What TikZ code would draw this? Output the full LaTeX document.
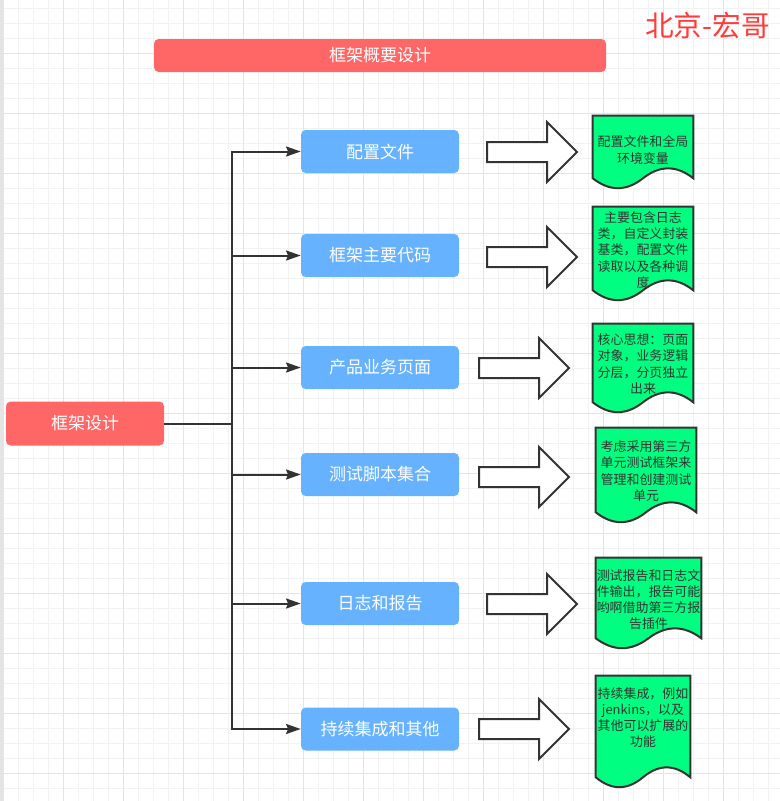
\documentclass[tikz,border=0pt]{standalone}
\usepackage{fontspec}
\newfontfamily\cjk{Noto Sans CJK SC}
\usetikzlibrary{arrows.meta,calc}

\definecolor{redfill}{HTML}{FF6666}
\definecolor{bluefill}{HTML}{66B2FF}
\definecolor{greenfill}{HTML}{00FF80}
\definecolor{ink}{HTML}{333333}
\definecolor{brand}{HTML}{FF3B3B}
\definecolor{gridminor}{HTML}{F2F2F2}
\definecolor{gridmajor}{HTML}{E4E4E4}

% document shape: top edge, straight sides, wavy bottom (wave depth 22 units)
\newcommand\docoutline[1]{%
  \draw[docline] (#1.north west) -- (#1.north east)
    -- ($(#1.south east)+(0,-11)$)
    .. controls ($(#1.south east)!1/6!(#1.south west)+(0,-24.2)$)
            and ($(#1.south east)!1/3!(#1.south west)+(0,-24.2)$)
    .. ($(#1.south)+(0,-11)$)
    .. controls ($(#1.south east)!2/3!(#1.south west)+(0,2.2)$)
            and ($(#1.south east)!5/6!(#1.south west)+(0,2.2)$)
    .. ($(#1.south west)+(0,-11)$) -- cycle;}

% hollow block arrow: left x, centre y
\newcommand\blockarrow[2]{%
  \draw[blockarrowline] (#1,{#2-10}) -- ({#1+60},{#2-10}) -- ({#1+60},{#2-30})
    -- ({#1+90},#2) -- ({#1+60},{#2+30}) -- ({#1+60},{#2+10}) -- (#1,{#2+10}) -- cycle;}

\begin{document}
\begin{tikzpicture}[x=0.75pt,y=-0.75pt,
  redbox/.style={rectangle, rounded corners=3.5pt, fill=redfill, text=white,
    font={\cjk\fontsize{12.75pt}{15pt}\selectfont}, inner sep=0pt},
  bluebox/.style={rectangle, rounded corners=3.5pt, fill=bluefill, text=white,
    font={\cjk\fontsize{12.75pt}{15pt}\selectfont}, inner sep=0pt,
    minimum width=118.5pt, minimum height=32.25pt},
  conn/.style={draw=ink, line width=1.5pt, -{Stealth[length=11pt,width=7.5pt,inset=1.5pt]}},
  blockarrowline/.style={draw=ink, fill=white, line width=1.5pt, line join=miter},
  docline/.style={draw=ink, fill=greenfill, line width=1.5pt},
  docshape/.style={rectangle, inner sep=0pt},
  doctext/.style={text=ink, font={\cjk\fontsize{9.7pt}{12.2pt}\selectfont},
    align=center, inner sep=0pt},
]
\useasboundingbox (0,0) rectangle (780,801);
\fill[white] (0,0) rectangle (780,801);

% background grid
\foreach \i in {0,...,51} {
  \draw[gridminor, line width=0.75pt] ({3.3+15*\i},0) -- ({3.3+15*\i},801);
}
\foreach \j in {0,...,52} {
  \draw[gridminor, line width=0.75pt] (0,{8.3+15*\j}) -- (780,{8.3+15*\j});
}
\foreach \i in {0,...,12} {
  \draw[gridmajor, line width=0.75pt] ({3.3+60*\i},0) -- ({3.3+60*\i},801);
}
\foreach \j in {0,...,12} {
  \draw[gridmajor, line width=0.75pt] (0,{53.3+60*\j}) -- (780,{53.3+60*\j});
}
\fill[gridmajor] (0,0) rectangle (2.5,801);

% headings
\node[redbox, minimum width=339pt, minimum height=24.75pt] (title) at (380,55.5) {框架概要设计};
\node[text=brand, font={\cjk\fontsize{21.5pt}{24pt}\selectfont}, inner sep=0pt] (brand) at (707.5,26) {北京-宏哥};

% root and branches
\node[redbox, minimum width=118.5pt, minimum height=33pt] (root) at (85,423.5) {框架设计};
\node[bluebox] (b1) at (380,151.5) {配置文件};
\node[bluebox] (b2) at (380,255.5) {框架主要代码};
\node[bluebox] (b3) at (380,367.5) {产品业务页面};
\node[bluebox] (b4) at (380,474.5) {测试脚本集合};
\node[bluebox] (b5) at (380,603.5) {日志和报告};
\node[bluebox] (b6) at (380,729) {持续集成和其他};

\coordinate (trunk) at ($(root.east)+(68,0)$);
\foreach \b in {b1,b2,b3,b4,b5,b6} {
  \draw[conn] (root.east) -- (trunk) |- (\b.west);
}

% hollow arrows
\blockarrow{487}{152}
\blockarrow{487}{257}
\blockarrow{479}{368}
\blockarrow{479}{477}
\blockarrow{487}{604}
\blockarrow{479}{729}

% notes
\node[docshape, minimum width=75pt, minimum height=54.75pt] (d1) at (643,152.5) {};
\node[docshape, minimum width=75pt, minimum height=70.5pt] (d2) at (643,254) {};
\node[docshape, minimum width=75pt, minimum height=66.75pt] (d3) at (643,368.5) {};
\node[docshape, minimum width=75pt, minimum height=71.25pt] (d4) at (646,475.5) {};
\node[docshape, minimum width=78.75pt, minimum height=68.25pt] (d5) at (648.5,603.5) {};
\node[docshape, minimum width=70.5pt, minimum height=84pt] (d6) at (643,732) {};
\docoutline{d1}
\docoutline{d2}
\docoutline{d3}
\docoutline{d4}
\docoutline{d5}
\docoutline{d6}

\node[doctext] (t1) at (643,150) {配置文件和全局\\环境变量};
\node[doctext] (t2) at (643,250) {主要包含日志\\类，自定义封装\\基类，配置文件\\读取以及各种调\\度};
\node[doctext] (t3) at (643,364) {核心思想：页面\\对象，业务逻辑\\分层，分页独立\\出来};
\node[doctext] (t4) at (646,471) {考虑采用第三方\\单元测试框架来\\管理和创建测试\\单元};
\node[doctext] (t5) at (648.5,599.5) {测试报告和日志文\\件输出，报告可能\\哟啊借助第三方报\\告插件};
\node[doctext] (t6) at (643,717.5) {持续集成，例如\\jenkins，以及\\其他可以扩展的\\功能};
\end{tikzpicture}
\end{document}
